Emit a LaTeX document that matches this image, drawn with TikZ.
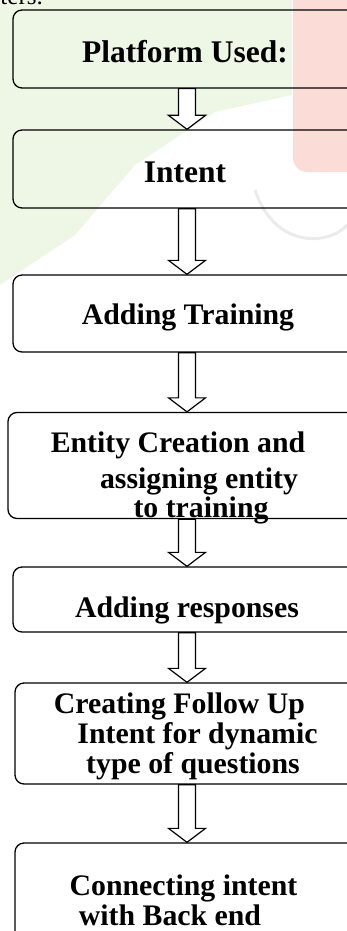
\documentclass[tikz,border=0pt]{standalone}
\usepackage{fontspec}
\setmainfont{Liberation Serif}
\usetikzlibrary{calc}

\definecolor{fondvert}{RGB}{238,247,229}
\definecolor{fondrose}{RGB}{252,220,214}

\tikzset{
  stepbox/.style={draw, line width=1.3pt, rounded corners=9pt, inner sep=0pt},
  steptext/.style={anchor=base, inner sep=0pt, font=\fontsize{29.8}{32}\selectfont\bfseries},
  bigtext/.style={steptext, font=\fontsize{31.5}{34}\selectfont\bfseries},
  hollowarrow/.style={draw, fill=white, line width=1.2pt, line join=miter}
}

% fleche creuse de la boite #1 vers la boite #2
\newcommand{\flowarrow}[2]{%
  \draw[hollowarrow] ($(#1.south)+(-8.5,0)$) -- ($(#2.north)+(-8.5,-14)$)
     -- ($(#2.north)+(-18.5,-14)$) -- (#2.north) -- ($(#2.north)+(18.5,-14)$)
     -- ($(#2.north)+(8.5,-14)$) -- ($(#1.south)+(8.5,0)$) -- cycle;}

\begin{document}
\begin{tikzpicture}  % ------ Etapes du chatbot --------------
      [x=1pt,y=-1pt]
    \useasboundingbox (0,0) rectangle (347,931);

    % ------ fond --------------
    \fill[fondvert] (0,0) -- (292,0) -- (292,95) -- (215,112) -- (135,165)
        -- (75,235) -- (0,285) -- cycle;
    \fill[fondrose, rounded corners=14pt] (293,-20) rectangle (370,172);
    \draw[black!8, line width=3pt] (255,190) .. controls (275,250) and (330,245) .. (347,225);
    \node (haut) [anchor=base east, inner sep=0pt, font=\fontsize{25}{27}\selectfont] at (43,5) {ters.};

    % ------ boites --------------
    \node (b1) [stepbox, minimum width=348, minimum height=78]  at (187,49)    {};
    \node (b2) [stepbox, minimum width=348, minimum height=78]  at (187,169)   {};
    \node (b3) [stepbox, minimum width=348, minimum height=77]  at (187,313.5) {};
    \node (b4) [stepbox, minimum width=358, minimum height=106] at (187,465.5) {};
    \node (b5) [stepbox, minimum width=348, minimum height=65]  at (187,599.5) {};
    \node (b6) [stepbox, minimum width=344, minimum height=101] at (187,733.5) {};
    \node (b7) [stepbox, minimum width=344, minimum height=138] at (187,912)   {};

    % ------ textes --------------
    \node (t1)  [bigtext]  at (185,63)    {Platform Used:};
    \node (t2)  [bigtext]  at (185,182)   {Intent};
    \node (t3)  [steptext] at (188,324)   {Adding Training};
    \node (t4a) [steptext] at (178,452)   {Entity Creation and};
    \node (t4b) [steptext] at (199,488)   {assigning entity};
    \node (t4c) [steptext] at (201,517)   {to training};
    \node (t5)  [steptext] at (187,617)   {Adding responses};
    \node (t6a) [steptext] at (179.5,713) {Creating Follow Up};
    \node (t6b) [steptext] at (197.5,743) {Intent for dynamic};
    \node (t6c) [steptext] at (193,773)   {type of questions};
    \node (t7a) [steptext] at (183.5,895) {Connecting intent};
    \node (t7b) [steptext] at (170,925)   {with Back end};

    % ------ fleches --------------
    \flowarrow{b1}{b2}
    \flowarrow{b2}{b3}
    \flowarrow{b3}{b4}
    \flowarrow{b4}{b5}
    \flowarrow{b5}{b6}
    \flowarrow{b6}{b7}
\end{tikzpicture}
\end{document}
